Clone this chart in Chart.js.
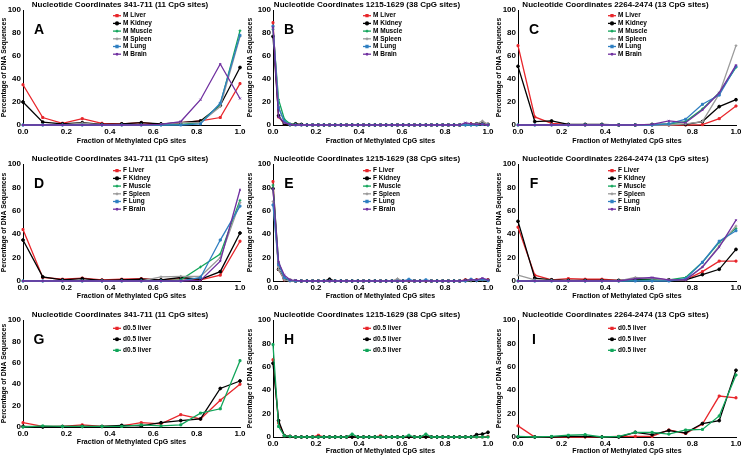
<!DOCTYPE html>
<html>
<head>
<meta charset="utf-8">
<script src="https://cdn.jsdelivr.net/npm/chart.js@4.4.0/dist/chart.umd.min.js"></script>
<style>
html, body { margin: 0; padding: 0; background: #fff; }
body { width: 741px; height: 456px; position: relative; overflow: hidden; }
canvas { position: absolute; }
</style>
</head>
<body>
<canvas id="cA" style="left:0px;top:0px" width="248" height="150"></canvas>
<canvas id="cB" style="left:246px;top:0px" width="250" height="150"></canvas>
<canvas id="cC" style="left:495px;top:0px" width="246" height="150"></canvas>
<canvas id="cD" style="left:0px;top:154px" width="248" height="148"></canvas>
<canvas id="cE" style="left:246px;top:154px" width="250" height="148"></canvas>
<canvas id="cF" style="left:495px;top:154px" width="246" height="148"></canvas>
<canvas id="cG" style="left:0px;top:310px" width="248" height="146"></canvas>
<canvas id="cH" style="left:246px;top:310px" width="250" height="146"></canvas>
<canvas id="cI" style="left:495px;top:310px" width="246" height="146"></canvas>
<script>
// fraction of methylated CpG sites (k / n)
const fr11 = [0, 0.091, 0.182, 0.273, 0.364, 0.455, 0.545, 0.636, 0.727, 0.818, 0.909, 1];
const fr13 = [0, 0.077, 0.154, 0.231, 0.308, 0.385, 0.462, 0.538, 0.615, 0.692, 0.769, 0.846, 0.923, 1];
const fr38 = [0, 0.026, 0.053, 0.079, 0.105, 0.132, 0.158, 0.184, 0.211, 0.237,
  0.263, 0.289, 0.316, 0.342, 0.368, 0.395, 0.421, 0.447, 0.474, 0.5,
  0.526, 0.553, 0.579, 0.605, 0.632, 0.658, 0.684, 0.711, 0.737, 0.763,
  0.789, 0.816, 0.842, 0.868, 0.895, 0.921, 0.947, 0.974, 1];

const tissues = ['Liver', 'Kidney', 'Muscle', 'Spleen', 'Lung', 'Brain'];
const maleNames = tissues.map(t => 'M ' + t);
const femaleNames = tissues.map(t => 'F ' + t);
const pupNames = ['d0.5 liver', 'd0.5 liver', 'd0.5 liver'];

const title341 = 'Nucleotide Coordinates 341-711 (11 CpG sites)';
const title1215 = 'Nucleotide Coordinates 1215-1629 (38 CpG sites)';
const title2264 = 'Nucleotide Coordinates 2264-2474 (13 CpG sites)';

// A: male, 341-711
const aLiver  = [35, 6.5, 1.5, 5.5, 1.5, 1, 2, 0.5, 2, 3.5, 6.5, 36];
const aKidney = [20, 2.5, 1, 2, 0.5, 1, 2, 1, 2, 3.5, 17, 50];
const aMuscle = [0, 0, 0, 0, 0, 0, 0, 0, 0.5, 2, 18, 82];
const aSpleen = [0, 0, 0, 1.5, 0, 0, 0, 0.5, 2, 2, 16, 77];
const aLung   = [0, 0, 0, 0, 0, 0, 0, 0, 0, 1, 19, 78];
const aBrain  = [0, 0, 0, 0, 0, 0, 0, 0.5, 3, 22, 53, 23];

// B: male, 1215-1629
const bLiver  = [89, 7, 1, 0.5, 0.5, 0.3, 0, 0, 0, 0,  0, 0, 0, 0, 0, 0, 0, 0, 0, 0,  0, 0, 0, 0, 0, 0, 0, 0, 0, 0,  0, 0, 0, 0, 0.5, 1, 0.5, 0.5, 0.5];
const bKidney = [77, 8, 1, 0.3, 1, 0.5, 0, 0, 0, 0,  0, 0, 0, 0, 0, 0, 0, 0, 0, 0,  0, 0, 0, 0, 0, 0, 0, 0, 0, 0,  0, 0, 0, 0, 0.5, 0.5, 1, 1, 0.5];
const bMuscle = [83, 22, 5, 1, 0.5, 0, 0, 0, 0, 0,  0, 0, 0, 0, 0, 0, 0, 0, 0, 0,  0, 0, 0, 0, 0, 0, 0, 0, 0, 0,  0, 0, 0, 0, 0, 0, 0, 0.5, 0];
const bSpleen = [85, 16, 2, 0.5, 0, 0, 0, 0, 0, 0,  0, 0, 0, 0, 0, 0, 0, 0, 0, 0,  0, 0, 0, 0, 0, 0, 0, 0, 0, 0,  0, 0, 0, 0, 0.5, 0.5, 1, 3.5, 0.5];
const bLung   = [86, 15, 3, 0.5, 0, 0, 0, 0, 0, 0,  0, 0, 0, 0, 0, 0, 0, 0, 0, 0,  0, 0, 0, 0, 0, 0, 0, 0, 0, 0,  0, 0, 0, 0, 0, 0, 0, 0.5, 0];
const bBrain  = [85, 7, 2, 0.5, 0, 0, 0, 0, 0, 0,  0, 0, 0, 0, 0, 0, 0, 0, 0, 0,  0, 0, 0, 0, 0, 0, 0, 0, 0, 0,  0, 0, 0, 0, 2, 1, 0.5, 0.5, 0];

// C: male, 2264-2474
const cLiver  = [69, 7, 1.5, 0.5, 0, 0, 0, 0, 0, 0, 0, 0.3, 5.5, 16.5];
const cKidney = [51, 3, 3.5, 0.5, 0.5, 0.5, 0, 0, 0.5, 0.5, 0.5, 3, 16, 22];
const cMuscle = [0, 0, 0, 0, 0, 0, 0, 0, 0, 1, 3, 14, 28, 50];
const cSpleen = [0, 0, 0, 0, 0, 0, 0, 0, 0, 0, 1, 3, 27, 69];
const cLung   = [0, 0, 0, 0, 0, 0, 0, 0, 0, 1, 5, 18, 26, 51];
const cBrain  = [0, 0, 0, 0, 0, 0, 0, 0, 0.5, 3.5, 2, 13, 28, 52];

// D: female, 341-711
const dLiver  = [44, 3, 1.5, 2.5, 1, 1.5, 2, 1, 2, 1, 5, 34];
const dKidney = [35, 3.5, 1, 2, 0.5, 1, 1.5, 1, 3, 1.5, 8, 41];
const dMuscle = [0, 0, 0, 0, 0, 0, 0, 0, 1, 12, 23, 69];
const dSpleen = [0, 0, 0, 0, 0, 0, 0, 3.5, 4, 4, 20, 67];
const dLung   = [0, 0, 0, 0, 0, 0, 0, 0, 0, 3, 35, 64];
const dBrain  = [0, 0, 0, 0, 0, 0, 0, 0, 0, 0.5, 17, 78];

// E: female, 1215-1629
const eLiver  = [85, 10, 1, 0.5, 0, 0, 0, 0, 0, 0,  0, 0, 0, 0, 0, 0, 0, 0, 0, 0,  0, 0, 0, 0, 0, 0, 0, 0, 0, 0,  0, 0, 0, 0, 1, 1, 1, 1, 1];
const eKidney = [79, 10, 2, 0.5, 0, 0, 0, 0, 0, 0,  1.5, 0, 0, 0, 0, 0, 0, 0, 0, 0,  0, 0, 0, 0, 0, 0, 0, 0, 0, 0,  0, 0, 0, 0, 0.5, 0.5, 0.5, 1, 0.5];
const eMuscle = [82, 16, 3, 0.5, 0, 0, 0, 0, 0, 0,  0, 0, 0, 0, 0, 0, 0, 0, 0, 0,  0, 0, 0, 0, 0, 0, 0, 0, 0, 0,  0, 0, 0, 0, 0, 0.5, 0.5, 1, 0.5];
const eSpleen = [68, 10, 1, 0, 0, 0, 0, 0, 0, 0,  0, 0, 0, 0, 0, 0, 0, 0, 0, 0,  0, 0, 2, 0, 0, 0, 0, 0, 0, 0,  0, 0, 0, 0, 0, 0.5, 0.5, 1, 0.5];
const eLung   = [65, 14, 3, 0.5, 0, 0, 0, 0, 0, 0,  0, 0, 0, 0, 0, 0, 0, 0, 0, 0,  0, 0, 0, 0, 1.5, 0, 0, 1, 0, 0,  0, 0, 0, 0, 0, 1.5, 0.5, 1.5, 0.5];
const eBrain  = [79, 16, 5, 1, 0.5, 0, 0, 0, 0, 0,  0, 0, 0, 0, 0, 0, 0, 0, 0, 0,  0, 0, 0, 0, 0, 0, 0, 0, 0, 0,  0, 0, 0, 0, 0.5, 1, 1, 2.5, 1];

// F: female, 2264-2474
const fLiver  = [46, 5, 1, 2, 1.5, 1.5, 0.5, 1, 2, 1, 1, 8, 17, 17];
const fKidney = [51, 2.5, 1, 0.5, 0.5, 0.5, 0.5, 1, 1.5, 1, 1, 5.5, 10, 27];
const fMuscle = [0, 0, 0, 0, 0, 0, 0, 0.5, 1, 1, 3, 16, 33, 45];
const fSpleen = [5, 1, 0.5, 0, 0, 0, 0, 3, 2, 1, 1, 12, 30, 47];
const fLung   = [0, 0, 0, 0, 0, 0, 0, 0, 0, 0, 2, 16, 34, 43];
const fBrain  = [0, 0, 0, 0, 0, 0, 0, 2, 3, 1, 1, 12, 29, 52];

// G: d0.5 liver, 341-711
const gLiver1 = [4, 0.5, 0.5, 2, 0.5, 1, 4, 3, 11.5, 7.5, 25, 40];
const gLiver2 = [0.5, 0, 0.5, 0.5, 0.5, 1.5, 1, 4, 6, 7.5, 36, 43];
const gLiver3 = [0, 1, 0.5, 0.5, 0.5, 0.5, 2, 1, 2, 13, 17, 62];

// H: d0.5 liver, 1215-1629
const hLiver1 = [66, 12, 1, 0.5, 0, 0, 0, 0, 1.5, 0,  0, 0, 0, 0, 0, 0, 0, 0, 0, 1,  0, 0, 0, 0, 0, 0, 0, 0, 0, 0,  0, 0, 0, 0, 0, 0, 0, 0, 0.5];
const hLiver2 = [63, 14, 1, 0.5, 0, 0, 0, 0, 0, 0,  0, 0, 0, 0, 0, 0, 0, 0, 0, 0,  0, 0, 0, 0, 0, 0, 0, 0, 0, 0,  0, 0, 0, 0, 0, 0, 2, 2.5, 4];
const hLiver3 = [79, 9, 1, 0.5, 0, 0, 0, 0, 0, 0,  0, 0, 0, 0, 2.5, 0, 0, 0, 0, 0,  0, 0, 0, 0, 1.5, 0, 0, 2.5, 0, 0,  0, 0, 0, 0, 0, 0, 0, 0, 0];

// I: d0.5 liver, 2264-2474
const iLiver1 = [9.5, 0, 0, 0, 0, 0, 0.5, 0.5, 0.5, 6, 3, 11, 35, 33.5];
const iLiver2 = [0, 0, 0, 0.5, 0.5, 0, 0, 4, 2, 5.5, 3.5, 11.5, 14, 57];
const iLiver3 = [0.5, 0, 0.5, 1.5, 2, 0, 0.5, 4, 4, 2.5, 6, 6.5, 18, 53];

const tissueStyles = [
  { color: '#e8262b', shape: 'rect' },
  { color: '#000000', shape: 'circle' },
  { color: '#11a55a', shape: 'cross' },
  { color: '#9a9a9a', shape: 'cross' },
  { color: '#2f7fc1', shape: 'rect' },
  { color: '#7030a0', shape: 'crossRot' }
];
const pupStyles = [
  { color: '#e8262b', shape: 'rect' },
  { color: '#000000', shape: 'circle' },
  { color: '#11a55a', shape: 'rect' }
];

const FONT = '"Liberation Sans", Arial, sans-serif';
Chart.defaults.font.family = FONT;
Chart.defaults.color = '#000';
Chart.defaults.animation = false;

// panel letter + in-plot legend
const panelDeco = {
  id: 'panelDeco',
  afterDatasetsDraw(chart, args, o) {
    const { ctx, chartArea: a } = chart;
    ctx.save();
    ctx.fillStyle = '#000';
    ctx.font = 'bold 14px ' + FONT;
    ctx.textAlign = 'center';
    ctx.textBaseline = 'top';
    ctx.fillText(o.letter, a.left + 16, a.top + 13);
    ctx.font = 'bold 6.5px ' + FONT;
    ctx.textAlign = 'left';
    ctx.textBaseline = 'middle';
    chart.data.datasets.forEach((ds, i) => {
      const y = a.top + o.first + i * o.gap;
      const x0 = a.left + 90;
      ctx.strokeStyle = ds.borderColor;
      ctx.fillStyle = ds.borderColor;
      ctx.lineWidth = 1.3;
      ctx.beginPath();
      ctx.moveTo(x0, y);
      ctx.lineTo(x0 + 8, y);
      ctx.stroke();
      Chart.helpers.drawPoint(ctx, { pointStyle: ds.pointStyle, radius: 1.4, borderWidth: 1, rotation: 0 }, x0 + 4, y);
      ctx.fillStyle = '#000';
      ctx.fillText(ds.label, x0 + 10, y);
    });
    ctx.restore();
  }
};

function panel(id, letter, title, xs, series, names, styles, g) {
  const datasets = series.map((vals, i) => ({
    label: names[i],
    data: vals.map((v, k) => ({ x: xs[k], y: v })),
    borderColor: styles[i].color,
    backgroundColor: styles[i].color,
    pointStyle: styles[i].shape,
    pointRadius: 1.4,
    pointBorderWidth: 1,
    borderWidth: 1.3,
    tension: 0,
    clip: false,
    order: series.length - i
  }));
  new Chart(document.getElementById(id), {
    type: 'line',
    data: { datasets },
    options: {
      responsive: false,
      layout: { padding: { left: 0, top: 0, right: g.rp, bottom: g.bp || 0 } },
      plugins: {
        legend: { display: false },
        tooltip: { enabled: false },
        title: { display: true, text: title, color: '#000', font: { size: 8, weight: 'bold' }, padding: { top: 0, bottom: 0.4 } },
        panelDeco: { letter, first: g.first, gap: g.gap }
      },
      scales: {
        x: {
          type: 'linear', min: 0, max: 1,
          ticks: { stepSize: 0.2, padding: 2, maxRotation: 0, autoSkip: false, font: { size: 8, weight: 'bold' }, callback: v => v.toFixed(1) },
          grid: { display: false, drawTicks: false },
          border: { display: true, color: '#000', width: 1 },
          title: { display: true, text: 'Fraction of Methylated CpG sites', font: { size: 7, weight: 'bold' }, padding: { top: 0, bottom: g.xtp } },
          afterFit: s => { s.height = g.xh; s.paddingLeft = 0; s.paddingRight = 0; }
        },
        y: {
          min: 0, max: 100,
          ticks: { stepSize: 10, padding: 2, font: { size: 8, weight: 'bold' } },
          grid: { display: false, drawTicks: false },
          border: { display: true, color: '#000', width: 1 },
          title: { display: true, text: 'Percentage of DNA Sequences', font: { size: 6.8, weight: 'bold' }, padding: 0 },
          afterFit: s => { s.width = g.yw; s.paddingTop = 0; s.paddingBottom = 0; }
        }
      }
    },
    plugins: [panelDeco]
  });
}

const row1 = { xh: 25, xtp: 5, first: 5.7, gap: 7.7 };
const row2 = { xh: 21, xtp: 2, first: 6.7, gap: 7.7 };
const row3 = { xh: 19, xtp: 1, first: 8.3, gap: 11 };
const colA = { yw: 23, rp: 8 }, colB = { yw: 27, rp: 8 }, colC = { yw: 23, rp: 5 };

panel('cA', 'A', title341, fr11, [aLiver, aKidney, aMuscle, aSpleen, aLung, aBrain], maleNames, tissueStyles, { ...row1, ...colA });
panel('cB', 'B', title1215, fr38, [bLiver, bKidney, bMuscle, bSpleen, bLung, bBrain], maleNames, tissueStyles, { ...row1, ...colB });
panel('cC', 'C', title2264, fr13, [cLiver, cKidney, cMuscle, cSpleen, cLung, cBrain], maleNames, tissueStyles, { ...row1, ...colC });
panel('cD', 'D', title341, fr11, [dLiver, dKidney, dMuscle, dSpleen, dLung, dBrain], femaleNames, tissueStyles, { ...row2, ...colA });
panel('cE', 'E', title1215, fr38, [eLiver, eKidney, eMuscle, eSpleen, eLung, eBrain], femaleNames, tissueStyles, { ...row2, ...colB });
panel('cF', 'F', title2264, fr13, [fLiver, fKidney, fMuscle, fSpleen, fLung, fBrain], femaleNames, tissueStyles, { ...row2, ...colC });
panel('cG', 'G', title341, fr11, [gLiver1, gLiver2, gLiver3], pupNames, pupStyles, { ...row3, ...colA, xtp: 0, bp: 10 });
panel('cH', 'H', title1215, fr38, [hLiver1, hLiver2, hLiver3], pupNames, pupStyles, { ...row3, ...colB });
panel('cI', 'I', title2264, fr13, [iLiver1, iLiver2, iLiver3], pupNames, pupStyles, { ...row3, ...colC });
</script>
</body>
</html>
